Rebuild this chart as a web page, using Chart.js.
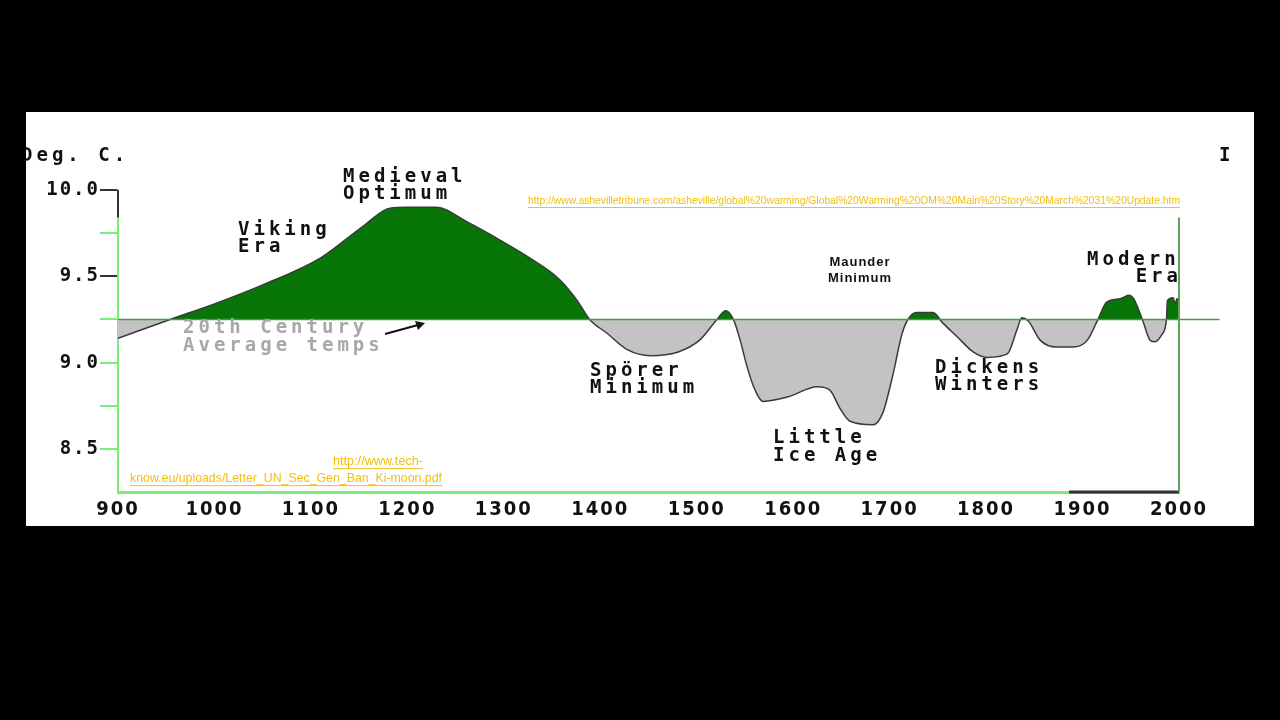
<!DOCTYPE html>
<html lang="en">
<head>
    <meta charset="UTF-8">
    <title>Temperature 900 - 2000</title>
    <script src="https://cdn.jsdelivr.net/npm/chart.js"></script>
    <style>
        body { margin: 0; background: #000; width: 1280px; height: 720px; overflow: hidden; }
        .panel { position: absolute; left: 26px; top: 112px; width: 1228px; height: 414px; background: #fff; }
        canvas { display: block; }
    </style>
</head>
<body>
<div class="panel">
    <canvas id="tempChart" width="1228" height="414"></canvas>
</div>

<script>
    // years and temperatures (deg C)
    const years = [900, 954, 1000, 1050, 1111, 1154, 1182, 1200, 1230, 1262, 1296, 1330, 1358, 1376, 1389,
        1407, 1428, 1452, 1480, 1503, 1521, 1530, 1538, 1545, 1552, 1559, 1569, 1594, 1625, 1638, 1649,
        1659, 1683, 1693, 1703, 1713, 1719, 1728, 1745, 1755, 1770, 1787, 1801, 1822, 1832, 1837, 1844,
        1856, 1873, 1890, 1905, 1916, 1925, 1939, 1948, 1953, 1962, 1970, 1975, 1982, 1987, 1988, 1994,
        1996, 1998, 2000];
    const temps = [9.14, 9.25, 9.34, 9.45, 9.61, 9.79, 9.895, 9.90, 9.90, 9.815, 9.71, 9.595, 9.48, 9.36, 9.25,
        9.17, 9.075, 9.04, 9.06, 9.13, 9.25, 9.30, 9.25, 9.13, 8.98, 8.86, 8.775, 8.80, 8.86, 8.84, 8.73,
        8.66, 8.64, 8.71, 8.92, 9.17, 9.25, 9.29, 9.29, 9.23, 9.15, 9.06, 9.03, 9.05, 9.19, 9.26, 9.24,
        9.13, 9.09, 9.09, 9.13, 9.25, 9.35, 9.37, 9.39, 9.37, 9.25, 9.13, 9.12, 9.16, 9.25, 9.36, 9.375,
        9.34, 9.37, 9.37];
    const average = 9.25; // 20th century average
    const xTicks = [900, 1000, 1100, 1200, 1300, 1400, 1500, 1600, 1700, 1800, 1900, 2000];
    const yLabels = [10.0, 9.5, 9.0, 8.5];

    const MONO = '"DejaVu Sans Mono", monospace';
    const NARROW = '"Liberation Sans Narrow", "Liberation Sans", sans-serif';
    const NOTE = 'bold 19px ' + MONO;

    // text on the picture: [text, x, y, color, font, spacing, align]
    const notes = [
        ['Deg. C.', -5, 44, '#111', NOTE, 4, 'left'],
        ['I', 1193, 44, '#111', NOTE, 0, 'left'],
        ['Medieval', 317, 65, '#111', NOTE, 4, 'left'],
        ['Optimum', 317, 82, '#111', NOTE, 4, 'left'],
        ['Viking', 212, 118, '#111', NOTE, 4, 'left'],
        ['Era', 212, 135, '#111', NOTE, 4, 'left'],
        ['20th Century', 157, 216, '#a8a8a8', NOTE, 4, 'left'],
        ['Average temps', 157, 234, '#a8a8a8', NOTE, 4, 'left'],
        ['Spörer', 564, 259, '#111', NOTE, 4, 'left'],
        ['Minimum', 564, 276, '#111', NOTE, 4, 'left'],
        ['Little', 747, 326, '#111', NOTE, 4, 'left'],
        ['Ice Age', 747, 344, '#111', NOTE, 4, 'left'],
        ['Dickens', 909, 256, '#111', NOTE, 4, 'left'],
        ['Winters', 909, 273, '#111', NOTE, 4, 'left'],
        ['Modern', 1061, 148, '#111', NOTE, 4, 'left'],
        ['Era', 1156, 165, '#111', NOTE, 4, 'right'],
        ['Maunder', 834, 150, '#111', 'bold 13px "Liberation Sans", sans-serif', 1, 'center'],
        ['Minimum', 834, 166, '#111', 'bold 13px "Liberation Sans", sans-serif', 1, 'center']
    ];

    // links: [text, left, y, width, font size]
    const links = [
        ['http://www.ashevilletribune.com/asheville/global%20warming/Global%20Warming%20OM%20Main%20Story%20March%2031%20Update.htm', 502, 89, 652, 11],
        ['http://www.tech-', 307, 349, 90, 13],
        ['know.eu/uploads/Letter_UN_Sec_Gen_Ban_Ki-moon.pdf', 104, 366, 312, 13]
    ];

    const points = years.map((y, i) => ({ x: y, y: temps[i] }));

    const decorations = {
        id: 'decorations',
        beforeDraw(chart) {
            chart.ctx.letterSpacing = '2px';
        },
        afterDraw(chart) {
            const ctx = chart.ctx;
            const x = chart.scales.x, y = chart.scales.y;
            ctx.save();
            ctx.letterSpacing = '0px';

            // dark parts of the axes and the line at 2000
            ctx.lineWidth = 2;
            ctx.strokeStyle = '#333';
            ctx.beginPath();
            ctx.moveTo(x.left, y.getPixelForValue(10.0));
            ctx.lineTo(x.left, y.getPixelForValue(9.84));
            ctx.stroke();
            ctx.lineWidth = 3;
            ctx.beginPath();
            ctx.moveTo(x.getPixelForValue(1886), y.bottom);
            ctx.lineTo(x.getPixelForValue(2000), y.bottom);
            ctx.stroke();
            ctx.strokeStyle = '#5aa55a';
            ctx.lineWidth = 2;
            ctx.beginPath();
            ctx.moveTo(x.getPixelForValue(2000), y.getPixelForValue(9.84));
            ctx.lineTo(x.getPixelForValue(2000), y.bottom);
            ctx.stroke();

            // arrow to the average line
            ctx.strokeStyle = '#111';
            ctx.fillStyle = '#111';
            ctx.lineWidth = 2;
            ctx.beginPath();
            ctx.moveTo(359, 222);
            ctx.lineTo(392, 213);
            ctx.stroke();
            ctx.beginPath();
            ctx.moveTo(399, 211);
            ctx.lineTo(389, 209);
            ctx.lineTo(392, 218);
            ctx.closePath();
            ctx.fill();

            ctx.textBaseline = 'middle';
            notes.forEach(([t, tx, ty, color, font, sp, align]) => {
                ctx.font = font;
                ctx.fillStyle = color;
                ctx.letterSpacing = sp + 'px';
                ctx.textAlign = align;
                ctx.fillText(t, tx, ty);
            });

            ctx.letterSpacing = '0px';
            ctx.textAlign = 'left';
            links.forEach(([t, lx, ly, w, size]) => {
                ctx.font = size + 'px ' + NARROW;
                ctx.fillStyle = '#f0c010';
                ctx.fillText(t, lx, ly, w);
                const real = Math.min(ctx.measureText(t).width, w);
                ctx.fillRect(lx, ly + size * 0.55, real, 1);
            });
            ctx.restore();
        }
    };

    const ctxTemp = document.getElementById('tempChart').getContext('2d');
    const tempChart = new Chart(ctxTemp, {
        type: 'line',
        data: {
            datasets: [
                {
                    label: '20th Century average',
                    data: [{ x: 900, y: average }, { x: 2042, y: average }],
                    borderColor: '#3f9f3f',
                    borderWidth: 1.5,
                    pointRadius: 0,
                    fill: false,
                    clip: false
                },
                {
                    label: 'Deg. C.',
                    data: points,
                    borderColor: '#3a3a3a',
                    borderWidth: 1.5,
                    pointRadius: 0,
                    cubicInterpolationMode: 'monotone',
                    fill: {
                        target: { value: average },
                        above: '#077507',
                        below: '#c3c3c3'
                    }
                }
            ]
        },
        options: {
            responsive: false,
            animation: false,
            layout: { padding: { left: 0, top: 78, right: 75, bottom: 0 } },
            plugins: {
                legend: { display: false },
                tooltip: { enabled: false }
            },
            scales: {
                x: {
                    type: 'linear',
                    min: 900,
                    max: 2000,
                    afterFit: s => { s.height = 34; },
                    afterBuildTicks: s => { s.ticks = xTicks.map(v => ({ value: v })); },
                    grid: { display: false, drawTicks: false },
                    border: { display: true, color: '#77ee77', width: 3 },
                    ticks: {
                        autoSkip: false,
                        maxRotation: 0,
                        padding: 6,
                        color: '#111',
                        font: { family: '"DejaVu Sans Condensed", "DejaVu Sans", sans-serif', size: 20, weight: 'bold' },
                        callback: v => String(v)
                    }
                },
                y: {
                    min: 8.25,
                    max: 10.0,
                    afterFit: s => { s.width = 92; },
                    border: { display: true, color: '#77ee77', width: 2 },
                    grid: {
                        drawOnChartArea: false,
                        tickLength: 18,
                        lineWidth: 2,
                        color: c => {
                            const v = c.tick.value;
                            if (v < 8.3) return 'rgba(0,0,0,0)';
                            return v >= 9.5 && yLabels.includes(v) ? '#333' : '#77ee77';
                        }
                    },
                    ticks: {
                        stepSize: 0.25,
                        autoSkip: false,
                        padding: 0,
                        color: '#111',
                        font: { family: MONO, size: 19, weight: 'bold' },
                        callback: v => yLabels.some(l => Math.abs(l - v) < 1e-6) ? v.toFixed(1) : ''
                    }
                }
            }
        },
        plugins: [decorations]
    });
</script>
</body>
</html>
